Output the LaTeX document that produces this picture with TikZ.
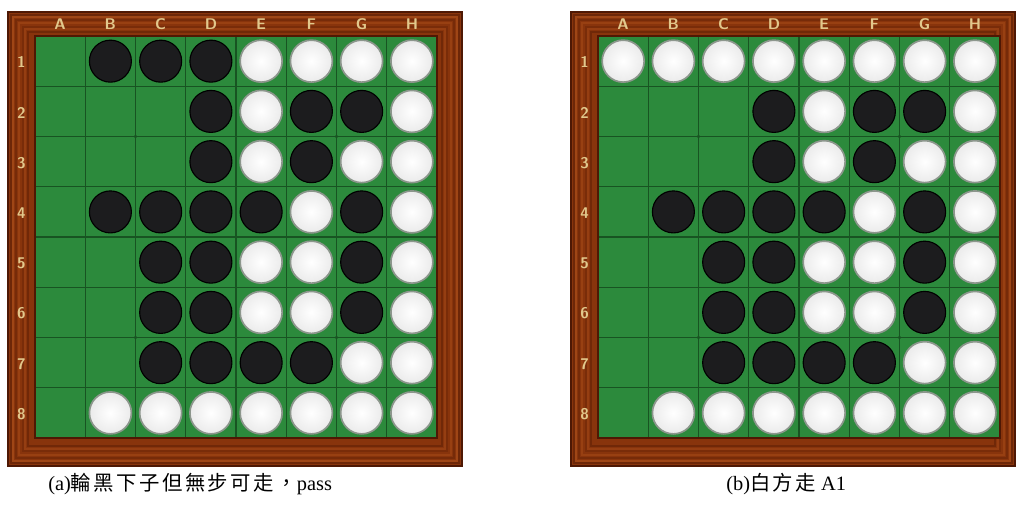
\documentclass[tikz,border=0pt]{standalone}
\usepackage{fontspec}
\setmainfont{Liberation Serif}
\newfontfamily\cjk[LetterSpace=12]{Noto Sans CJK TC}
\usetikzlibrary{positioning}

\definecolor{wood}{RGB}{136,52,12}
\definecolor{wooddark}{RGB}{78,24,4}
\definecolor{woodlight}{RGB}{182,88,32}
\definecolor{felt}{RGB}{44,138,60}
\definecolor{feltline}{RGB}{24,84,34}
\definecolor{labeltan}{RGB}{226,200,140}
\definecolor{stoneblack}{RGB}{28,28,30}
\definecolor{stoneedge}{RGB}{140,150,140}

% one board: green left x, right frame width, rows (0 empty, 1 black, 2 white)
\newcommand{\drawboard}[3]{%
  % frame
  \fill[wood] (#1-27,12) rectangle (#1+402+#2,466);
  \foreach \s/\o in {3/0.45,8/0.3,15/0.25,20/0.4} {
    \draw[wooddark, line width=1.6, opacity=\o] (#1-27+\s,12+\s) rectangle (#1+402+#2-\s,466-\s);
  }
  \foreach \s/\o in {5/0.5,11/0.35,17/0.3} {
    \draw[woodlight, line width=1.2, opacity=\o] (#1-27+\s,12+\s) rectangle (#1+402+#2-\s,466-\s);
  }
  \draw[wooddark, line width=1.2] (#1-27,12) rectangle (#1+402+#2,466);
  % field
  \fill[felt] (#1,36) rectangle (#1+402,438);
  \foreach \k in {1,...,7} {
    \draw[gridline] (#1+\k*50.25,36) -- (#1+\k*50.25,438);
    \draw[gridline] (#1,36+\k*50.25) -- (#1+402,36+\k*50.25);
  }
  \draw[wooddark, line width=1.6] (#1,36) rectangle (#1+402,438);
  \foreach \i in {2,6} \foreach \j in {2,6} {
    \fill[feltline] (#1+\i*50.25,36+\j*50.25) circle (1.8);
  }
  % labels
  \foreach \L [count=\k] in {A,...,H} {
    \node[lbl] at (#1+\k*50.25-25.1,24) {\L};
  }
  \foreach \k in {1,...,8} {
    \node[lbl] at (#1-13.5,36+\k*50.25-24) {\k};
  }
  % stones
  \foreach \row [count=\r] in {#3} {
    \foreach \c [count=\k] in \row {
      \ifnum\c=1
        \fill[blackstone] (#1+\k*50.25-25.1,36+\r*50.25-25.1) circle (21);
      \fi
      \ifnum\c=2
        \shade[whitestone] (#1+\k*50.25-25.1,36+\r*50.25-25.1) circle (21);
        \draw[stoneedge, line width=1.2] (#1+\k*50.25-25.1,36+\r*50.25-25.1) circle (21);
      \fi
    }
  }
}

\begin{document}
\begin{tikzpicture}[
        x=0.025cm, y=-0.025cm,
        gridline/.style={feltline, line width=0.8},
        lbl/.style={text=labeltan, font=\sffamily\bfseries\fontsize{11}{12}\selectfont, inner sep=0},
        blackstone/.style={stoneblack, draw=black, line width=0.8},
        whitestone/.style={inner color=white, outer color=black!8},
        caption/.style={anchor=west, inner sep=0, font=\fontsize{14.5}{17}\selectfont}
    ]
        \useasboundingbox (0,0) rectangle (1016,521);

        % Board (a): black to move, pass
        \drawboard{35}{25}{{0,1,1,1,2,2,2,2},{0,0,0,1,2,1,1,2},{0,0,0,1,2,1,2,2},{0,1,1,1,1,2,1,2},
                           {0,0,1,1,2,2,1,2},{0,0,1,1,2,2,1,2},{0,0,1,1,1,1,2,2},{0,2,2,2,2,2,2,2}}

        % Board (b): white plays A1
        \drawboard{598}{15}{{2,2,2,2,2,2,2,2},{0,0,0,1,2,1,1,2},{0,0,0,1,2,1,2,2},{0,1,1,1,1,2,1,2},
                            {0,0,1,1,2,2,1,2},{0,0,1,1,2,2,1,2},{0,0,1,1,1,1,2,2},{0,2,2,2,2,2,2,2}}

        % Captions
        \node[caption] (capA) at (48,484) {(a){\cjk 輪黑下子但無步可走，}pass};
        \node[caption] (capB) at (726,484) {(b){\cjk 白方走} A1};

    \end{tikzpicture}
\end{document}
